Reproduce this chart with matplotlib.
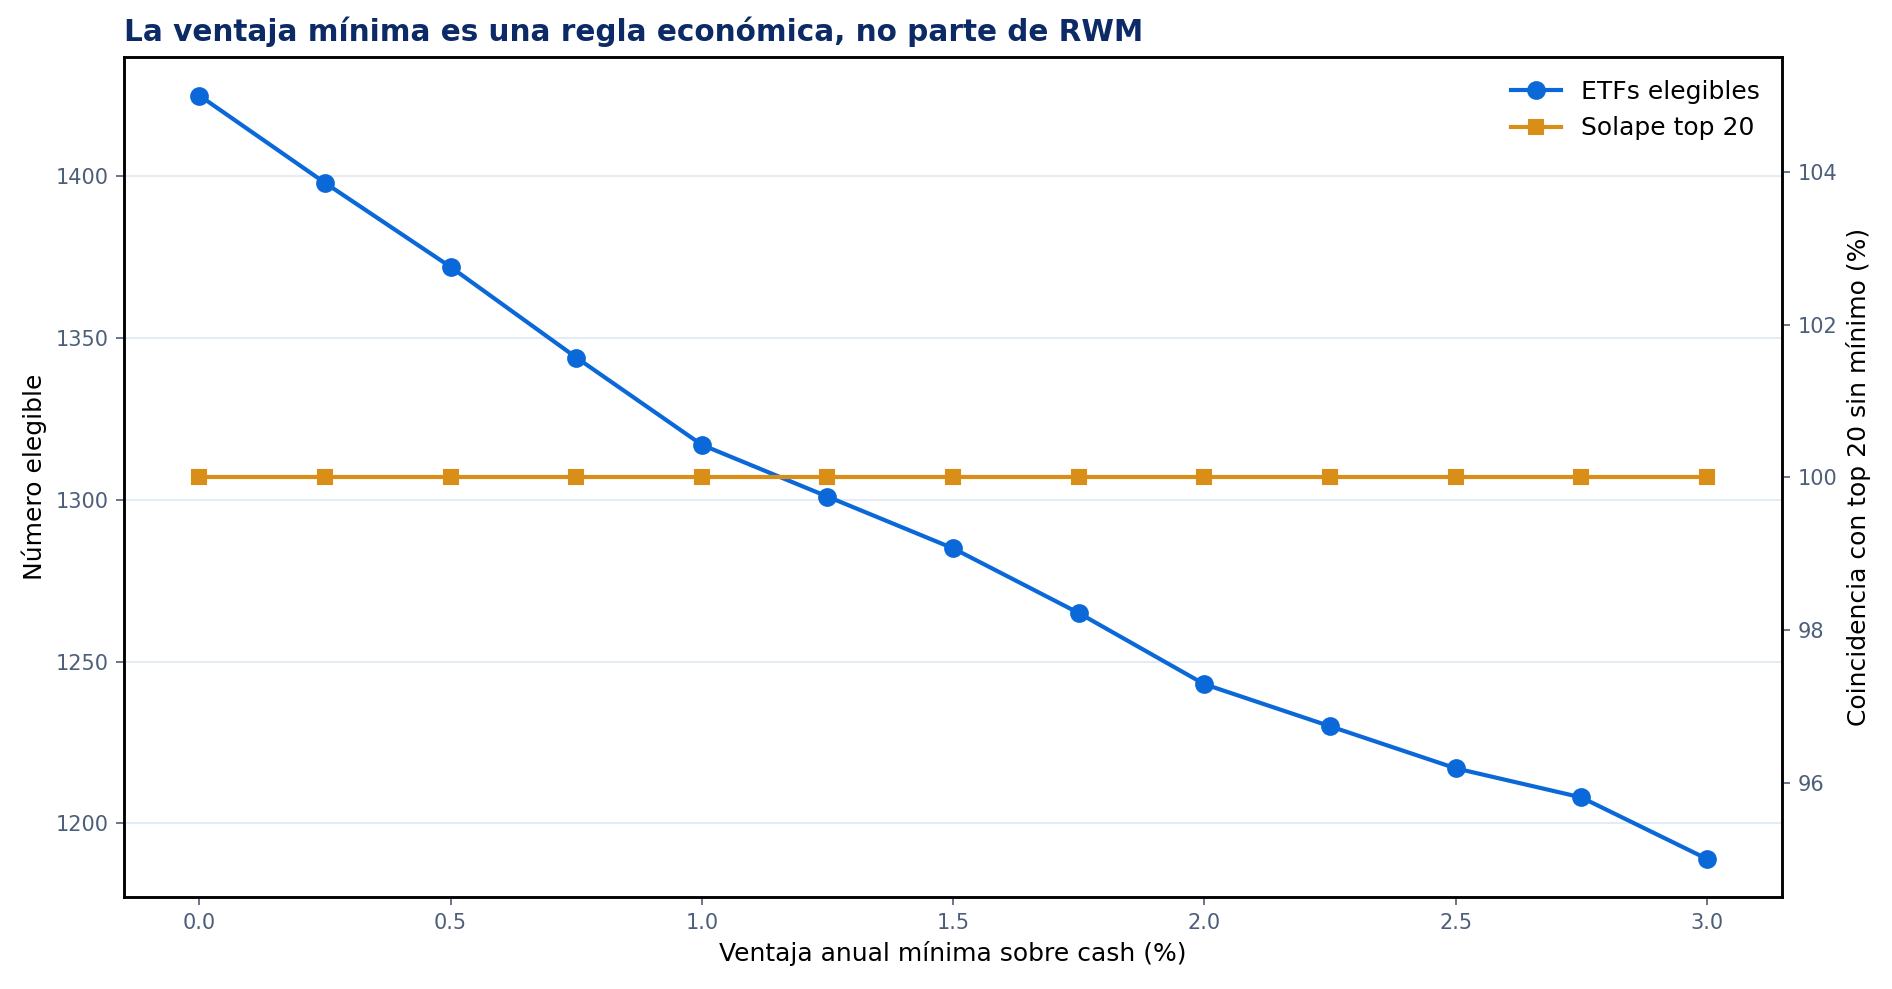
import matplotlib
matplotlib.use("Agg")
import matplotlib.pyplot as plt

umbral = [0.0, 0.25, 0.5, 0.75, 1.0, 1.25, 1.5, 1.75, 2.0, 2.25, 2.5, 2.75, 3.0]
etfs_elegibles = [1425, 1398, 1372, 1344, 1317, 1301, 1285, 1265, 1243, 1230, 1217, 1208, 1189]
solape_top20 = [100, 100, 100, 100, 100, 100, 100, 100, 100, 100, 100, 100, 100]

title = "La ventaja mínima es una regla económica, no parte de RWM"
xlabel = "Ventaja anual mínima sobre cash (%)"
ylabel_left = "Número elegible"
ylabel_right = "Coincidencia con top 20 sin mínimo (%)"

BLUE = "#0b68d8"
ORANGE = "#d98f17"
TICK = "#4d5e7a"
GRID = "#e5ebf4"
NAVY = "#0c2a66"

plt.rcParams['font.family'] = ['DejaVu Sans']
fig = plt.figure(figsize=(1893/150, 989/150), dpi=150)
ax = fig.add_axes([0.0655, 0.093, 0.876, 0.849])
ax2 = ax.twinx()

l1, = ax.plot(umbral, etfs_elegibles, color=BLUE, lw=2, marker='o', ms=8, label="ETFs elegibles", zorder=3)
l2, = ax2.plot(umbral, solape_top20, color=ORANGE, lw=2, marker='s', ms=7, label="Solape top 20", zorder=3)

ax.grid(axis='y', color=GRID, lw=1)
ax.set_axisbelow(True)
for a in (ax, ax2):
    a.tick_params(colors=TICK, labelsize=10, length=4)
    for s in a.spines.values():
        s.set_color('black')
        s.set_linewidth(1.2)

ax.set_xlabel(xlabel, fontsize=12)
ax.set_ylabel(ylabel_left, fontsize=12)
ax2.set_ylabel(ylabel_right, fontsize=12)
ax.set_title(title, loc='left', fontsize=14.2, fontweight='bold', color=NAVY, pad=8)

ax2.legend(handles=[l1, l2], loc='upper right', frameon=False, fontsize=12)

fig.savefig("out.png", dpi=150)
